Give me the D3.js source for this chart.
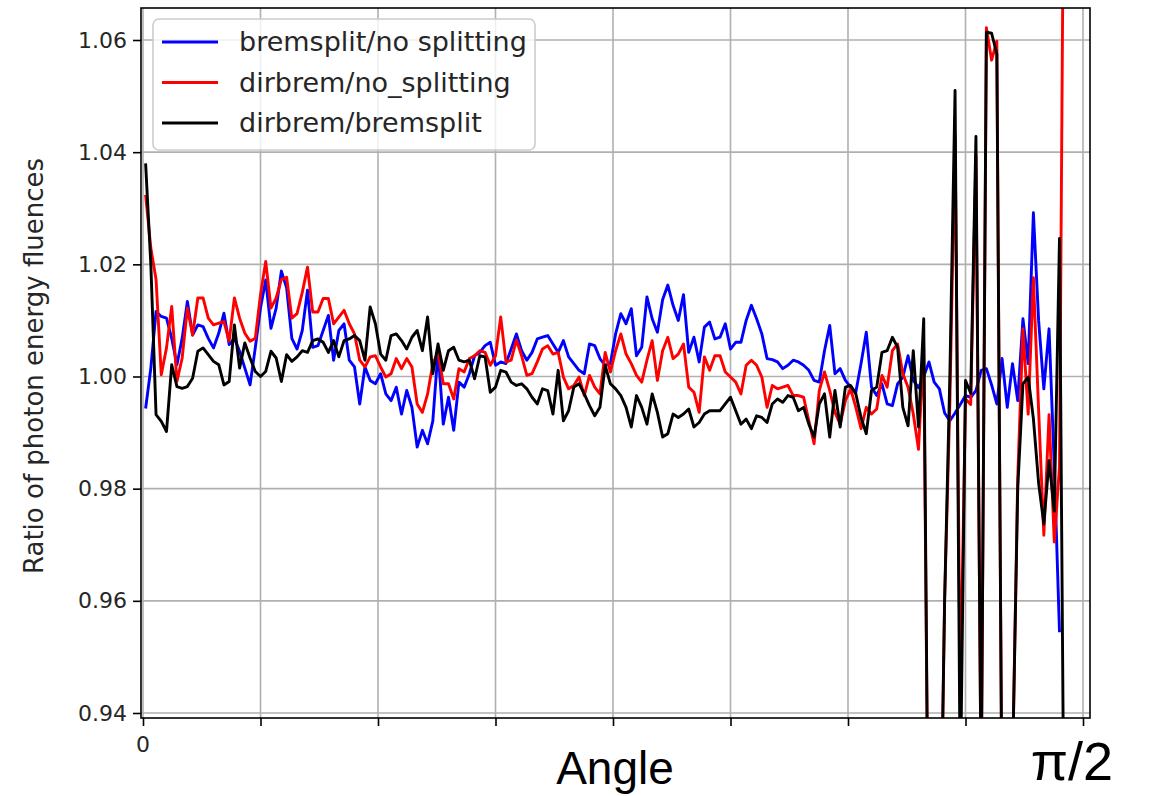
<!DOCTYPE html>
<html>
<head>
<meta charset="utf-8">
<script src="https://cdn.jsdelivr.net/npm/d3@7"></script>
<style>
  body { margin: 0; background: #fff; }
  svg { display: block; }
</style>
</head>
<body>
<div id="chart"></div>
<script>
const binWidthDeg = 0.5;

const seriesLabels = ['bremsplit/no splitting', 'dirbrem/no_splitting', 'dirbrem/bremsplit'];
const seriesColors = ['#0000ff', '#ff0000', '#000000'];

const bremsplitNoSplit = [
  0.9943, 1.0015, 1.0116, 1.0107, 1.0104, 1.0068, 1.0021, 1.0068, 1.0134, 1.0074,
  1.0092, 1.0089, 1.0068, 1.0051, 1.0077, 1.0113, 1.0057, 1.0068, 1.0045, 1.0015,
  0.9985, 1.0051, 1.0122, 1.0172, 1.0086, 1.0122, 1.0188, 1.0158, 1.0068,
  1.0049, 1.0082, 1.0154, 1.0052, 1.0055, 1.0082, 1.0109, 1.0029, 1.0082, 1.0094,
  1.0029, 1.0017, 0.9951, 1.0017, 0.9993, 0.9987, 1.0005, 0.9969, 0.9957, 0.9981,
  0.9933, 0.9975, 0.9945, 0.9874, 0.9904, 0.9880, 0.9921, 1.0046, 0.9915, 0.9963,
  0.9904, 0.9990, 0.9981, 1.0005, 1.0037, 1.0043, 1.0055, 1.0061, 1.0020, 1.0026,
  1.0023, 1.0049, 1.0076, 1.0046, 1.0029, 1.0043, 1.0067, 1.0070, 1.0073, 1.0058,
  1.0043, 1.0064, 1.0035, 1.0023, 1.0011, 1.0005, 1.0058, 1.0055, 1.0032, 1.0020,
  1.0023, 1.0076, 1.0112, 1.0094, 1.0121, 1.0037, 1.0052, 1.0142, 1.0103, 1.0079,
  1.0137, 1.0163, 1.0127, 1.0100, 1.0146, 1.0043, 1.0070, 1.0026, 1.0088, 1.0097,
  1.0067, 1.0070, 1.0094, 1.0049, 1.0061, 1.0061, 1.0100, 1.0127, 1.0103,
  1.0076, 1.0032, 1.0030, 1.0026, 1.0014, 1.0020, 1.0029, 1.0026, 1.0020, 1.0011,
  0.9993, 0.9990, 1.0046, 1.0091, 1.0005, 1.0014, 0.9993, 0.9981, 0.9972, 1.0023,
  1.0079, 0.9981, 0.9966, 0.9987, 0.9951, 0.9948, 0.9987, 0.9999, 1.0037, 0.9993,
  0.9980, 1.0000, 1.0026, 0.9990, 0.9978, 0.9935, 0.9921, 0.9935, 0.9950, 0.9966,
  0.9963, 0.9975, 1.0011, 1.0014, 0.9985, 0.9951, 1.0032, 0.9945, 1.0023, 0.9957,
  1.0103, 1.0023, 1.0292, 1.0100, 0.9978, 1.0085, 0.9840, 0.9544, null
];

const dirbremNoSplit = [
  1.0324, 1.0229, 1.0173, 1.0003, 1.0051, 1.0125, 0.9991, 1.0033, 1.0122, 1.0074,
  1.0140, 1.0140, 1.0104, 1.0092, 1.0095, 1.0098, 1.0063, 1.0140, 1.0104, 1.0077,
  1.0063, 1.0068, 1.0146, 1.0205, 1.0122, 1.0140, 1.0173, 1.0177, 1.0104,
  1.0112, 1.0150, 1.0195, 1.0115, 1.0115, 1.0139, 1.0139, 1.0094, 1.0106, 1.0118,
  1.0094, 1.0076, 1.0029, 1.0017, 1.0035, 1.0037, 1.0017, 0.9999, 1.0005, 1.0032,
  1.0014, 1.0032, 1.0017, 0.9951, 0.9936, 0.9969, 1.0023, 1.0043, 0.9987, 0.9987,
  0.9960, 1.0014, 1.0008, 1.0032, 1.0037, 1.0046, 1.0043, 1.0020, 1.0037, 1.0106,
  1.0026, 1.0029, 1.0065, 1.0037, 1.0002, 1.0005, 1.0026, 1.0049, 1.0055, 1.0040,
  1.0043, 0.9999, 0.9978, 0.9984, 0.9999, 0.9966, 1.0002, 0.9981, 0.9969, 1.0043,
  1.0008, 1.0046, 1.0076, 1.0040, 1.0023, 1.0002, 0.9990, 1.0029, 1.0064, 0.9993,
  1.0046, 1.0070, 1.0032, 1.0040, 1.0058, 0.9981, 0.9972, 0.9936, 1.0035, 1.0011,
  1.0037, 1.0037, 1.0008, 0.9999, 0.9990, 0.9969, 1.0020, 1.0029, 1.0020,
  0.9999, 0.9945, 0.9984, 0.9978, 0.9981, 0.9984, 0.9966, 0.9966, 0.9963, 0.9921,
  0.9880, 0.9975, 1.0008, 0.9975, 0.9936, 0.9915, 0.9957, 0.9978, 0.9945, 0.9907,
  0.9945, 0.9933, 0.9942, 1.0002, 0.9981, 1.0046, 1.0058, 1.0005, 0.9981, 0.9933,
  0.9870, 1.0052, 0.9000, 0.9100, 0.9000, 0.9600, 0.9950, 1.0430, 0.9425, 0.9960,
  0.9950, 1.0395, 0.9250, 1.0622, 1.0564, 1.0598, 0.9200, 0.9200, 0.9300, 0.9820,
  1.0085, 0.9933, 1.0176, 0.9940, 0.9717, 0.9932, 0.9705, 0.9840, 1.1200
];

const dirbremBremsplit = [
  1.0380, 1.0200, 0.9932, 0.9920, 0.9902, 1.0021, 0.9982, 0.9979, 0.9982, 0.9997,
  1.0045, 1.0051, 1.0039, 1.0027, 1.0021, 0.9985, 0.9991, 1.0092, 1.0015, 1.0060,
  1.0033, 1.0009, 1.0000, 1.0009, 1.0045, 1.0033, 0.9991, 1.0039, 1.0027,
  1.0035, 1.0046, 1.0043, 1.0064, 1.0067, 1.0061, 1.0043, 1.0064, 1.0035, 1.0064,
  1.0067, 1.0073, 1.0064, 1.0029, 1.0124, 1.0094, 1.0040, 1.0029, 1.0073, 1.0076,
  1.0064, 1.0049, 1.0070, 1.0082, 1.0046, 1.0106, 1.0005, 1.0058, 1.0011, 1.0046,
  1.0052, 1.0029, 1.0026, 1.0029, 0.9996, 1.0037, 1.0035, 0.9972, 0.9981, 1.0011,
  1.0008, 0.9990, 0.9984, 0.9987, 0.9978, 0.9963, 0.9951, 0.9978, 0.9975, 0.9933,
  1.0011, 0.9921, 0.9939, 0.9981, 0.9987, 0.9969, 0.9948, 0.9930, 0.9945, 1.0020,
  0.9987, 0.9978, 0.9966, 0.9945, 0.9910, 0.9966, 0.9945, 0.9915, 0.9969, 0.9936,
  0.9892, 0.9898, 0.9933, 0.9927, 0.9933, 0.9942, 0.9910, 0.9918, 0.9933, 0.9939,
  0.9939, 0.9939, 0.9951, 0.9963, 0.9939, 0.9915, 0.9924, 0.9907, 0.9930,
  0.9927, 0.9918, 0.9951, 0.9960, 0.9954, 0.9966, 0.9963, 0.9939, 0.9945, 0.9915,
  0.9892, 0.9951, 0.9969, 0.9892, 0.9975, 0.9910, 0.9981, 0.9984, 0.9969, 0.9927,
  0.9898, 0.9975, 0.9981, 1.0043, 1.0046, 1.0070, 1.0052, 0.9945, 0.9912, 1.0046,
  0.9910, 1.0103, 0.9000, 0.9100, 0.9000, 0.9600, 1.0000, 1.0510, 0.9250, 0.9993,
  0.9970, 1.0428, 0.9250, 1.0614, 1.0612, 1.0575, 0.9200, 0.9200, 0.9300, 0.9800,
  0.9987, 0.9999, 0.9925, 0.9810, 0.9737, 0.9850, 0.9760, 1.0246, 0.9000
];

const yTicks = [0.94, 0.96, 0.98, 1.00, 1.02, 1.04, 1.06];
const xTickCount = 8; // ticks every pi/16 from 0 to pi/2

const width = 1149, height = 796;
const plot = { left: 141, right: 1090, top: 8, bottom: 718 };

const svg = d3.select('#chart')
  .append('svg')
  .attr('width', width)
  .attr('height', height)
  .style('font-family', '"DejaVu Sans", sans-serif');

svg.append('rect')
  .attr('width', width)
  .attr('height', height)
  .attr('fill', '#fff');

const x = d3.scaleLinear().domain([0, Math.PI / 2]).range([143, 1083]);
const y = d3.scaleLinear().domain([0.94, 1.06]).range([713, 40]);

const xTicks = d3.range(xTickCount + 1).map(k => k * Math.PI / 16);

// grid
const grid = svg.append('g').attr('class', 'grid')
  .attr('stroke', '#b0b0b0')
  .attr('stroke-width', 1.6);

grid.selectAll('line.gx')
  .data(xTicks)
  .join('line')
  .attr('class', 'gx')
  .attr('x1', d => x(d)).attr('x2', d => x(d))
  .attr('y1', plot.top).attr('y2', plot.bottom);

grid.selectAll('line.gy')
  .data(yTicks)
  .join('line')
  .attr('class', 'gy')
  .attr('x1', plot.left).attr('x2', plot.right)
  .attr('y1', d => y(d)).attr('y2', d => y(d));

// data lines, clipped to the axes box
svg.append('clipPath')
  .attr('id', 'plot-clip')
  .append('rect')
  .attr('x', plot.left)
  .attr('y', plot.top)
  .attr('width', plot.right - plot.left)
  .attr('height', plot.bottom - plot.top);

const angleOf = i => (i + 0.5) * binWidthDeg * Math.PI / 180;

const line = d3.line()
  .defined(d => d != null)
  .x((d, i) => x(angleOf(i)))
  .y(d => y(d));

const allSeries = [bremsplitNoSplit, dirbremNoSplit, dirbremBremsplit];

svg.append('g')
  .attr('clip-path', 'url(#plot-clip)')
  .selectAll('path')
  .data(allSeries)
  .join('path')
  .attr('fill', 'none')
  .attr('stroke', (d, i) => seriesColors[i])
  .attr('stroke-width', 2.9)
  .attr('stroke-linejoin', 'round')
  .attr('d', d => line(d));

// axes (ticks only, the frame is drawn separately)
const yAxis = svg.append('g')
  .attr('transform', `translate(${plot.left},0)`)
  .call(d3.axisLeft(y).tickValues(yTicks).tickFormat(d3.format('.2f')).tickSize(8).tickPadding(6));

yAxis.select('.domain').remove();
yAxis.selectAll('.tick line').attr('stroke', '#000').attr('stroke-width', 1.6);
yAxis.selectAll('.tick text')
  .attr('fill', '#262626')
  .style('font-size', '22px')
  .style('font-family', '"DejaVu Sans", sans-serif');

const xAxis = svg.append('g')
  .attr('transform', `translate(0,${plot.bottom})`)
  .call(d3.axisBottom(x).tickValues(xTicks).tickFormat('').tickSize(8));

xAxis.select('.domain').remove();
xAxis.selectAll('.tick line').attr('stroke', '#000').attr('stroke-width', 1.6);

// frame
svg.append('rect')
  .attr('x', plot.left)
  .attr('y', plot.top)
  .attr('width', plot.right - plot.left)
  .attr('height', plot.bottom - plot.top)
  .attr('fill', 'none')
  .attr('stroke', '#000')
  .attr('stroke-width', 1.6);

// x labels
svg.append('text')
  .attr('x', x(0))
  .attr('y', 752)
  .attr('text-anchor', 'middle')
  .attr('fill', '#262626')
  .style('font-size', '22px')
  .text('0');

svg.append('text')
  .attr('x', 615)
  .attr('y', 784)
  .attr('text-anchor', 'middle')
  .style('font-family', '"Liberation Sans", Arial, sans-serif')
  .style('font-size', '46px')
  .text('Angle');

svg.append('text')
  .attr('x', 1072)
  .attr('y', 780)
  .attr('text-anchor', 'middle')
  .style('font-family', '"Liberation Sans", Arial, sans-serif')
  .style('font-size', '54px')
  .text('π/2');

// y label
svg.append('text')
  .attr('transform', 'translate(43,366) rotate(-90)')
  .attr('text-anchor', 'middle')
  .attr('fill', '#262626')
  .style('font-size', '26px')
  .text('Ratio of photon energy fluences');

// legend
const legend = svg.append('g').attr('class', 'legend');

legend.append('rect')
  .attr('x', 153)
  .attr('y', 19)
  .attr('width', 382)
  .attr('height', 131)
  .attr('rx', 6)
  .attr('fill', '#fff')
  .attr('fill-opacity', 0.8)
  .attr('stroke', '#cccccc')
  .attr('stroke-width', 1.6);

const rows = legend.selectAll('g.row')
  .data(seriesLabels)
  .join('g')
  .attr('class', 'row')
  .attr('transform', (d, i) => `translate(0,${42 + i * 40.5})`);

rows.append('line')
  .attr('x1', 162).attr('x2', 218)
  .attr('stroke', (d, i) => seriesColors[i])
  .attr('stroke-width', 2.9);

rows.append('text')
  .attr('x', 239)
  .attr('dy', '0.35em')
  .attr('fill', '#262626')
  .style('font-size', '27px')
  .text(d => d);
</script>
</body>
</html>
